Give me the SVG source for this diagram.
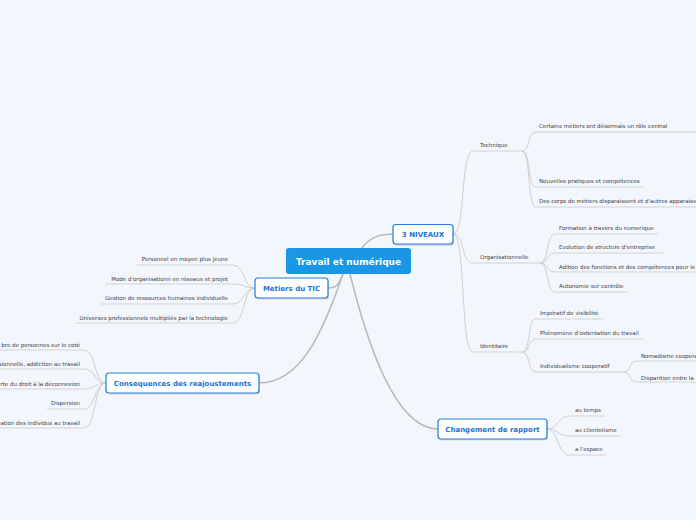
<svg xmlns="http://www.w3.org/2000/svg" width="696" height="520" viewBox="0 0 696 520">
<defs>
<style>
.bg{fill:#f3f6fd}
.main{fill:none;stroke:#b8b8b8;stroke-width:1.5}
.con{fill:none;stroke:#cfcfcf;stroke-width:1}
.ul{stroke:#d2d2d2;stroke-width:1}
.leaf{font-family:"DejaVu Sans",Verdana,sans-serif;font-size:5.5px;fill:#3c3c3c}
.nbox{fill:#ffffff;stroke:#1f7fdb;stroke-width:1.2}
.shadow{fill:#000;opacity:0.12}
.ntext{font-family:"DejaVu Sans",Verdana,sans-serif;font-size:7px;font-weight:bold;fill:#1a73d6;text-anchor:middle}
.ctext{font-family:"DejaVu Sans",Verdana,sans-serif;font-size:9px;font-weight:bold;fill:#ffffff;text-anchor:middle}
.end{text-anchor:end}
</style>
</defs>
<rect class="bg" x="0" y="0" width="696" height="520"/>

<g id="connectors">
<path class="main" d="M362,248 C370,237 380,234 393,234"/>
<path class="main" d="M343,274 C338,286 336,288 328,288"/>
<path class="main" d="M343,274 C322,335 300,383 259,383"/>
<path class="main" d="M350,274 C370,355 398,429 438,429"/>
<!-- Metiers du TIC -->
<path class="con" d="M255,288 C243,288 245,265 233,265"/>
<path class="con" d="M255,288 C243,288 245,284 233,284"/>
<path class="con" d="M255,288 C243,288 245,304 233,304"/>
<path class="con" d="M255,288 C243,288 245,323 233,323"/>
<!-- Consequences -->
<path class="con" d="M106,383 C94,383 96,350 84,350"/>
<path class="con" d="M106,383 C94,383 96,369 84,369"/>
<path class="con" d="M106,383 C94,383 96,389 84,389"/>
<path class="con" d="M106,383 C94,383 96,409 84,409"/>
<path class="con" d="M106,383 C94,383 96,428 84,428"/>
<!-- 3 NIVEAUX -->
<path class="con" d="M453,234 C466,234 460,151 473,151"/>
<path class="con" d="M453,234 C466,234 460,263 473,263"/>
<path class="con" d="M453,234 C466,234 460,352 473,352"/>
<!-- Technique -->
<path class="con" d="M522,151 C531,151 527,132 536,132"/>
<path class="con" d="M522,151 C531,151 527,187 536,187"/>
<path class="con" d="M522,151 C531,151 527,207 536,207"/>
<!-- Organisationnelle -->
<path class="con" d="M540,263 C549,263 546,234 555,234"/>
<path class="con" d="M540,263 C549,263 546,253 555,253"/>
<path class="con" d="M540,263 C549,263 546,272 555,272"/>
<path class="con" d="M540,263 C549,263 546,292 555,292"/>
<!-- Identitaire -->
<path class="con" d="M522,352 C531,352 527,319 536,319"/>
<path class="con" d="M522,352 C531,352 527,339 536,339"/>
<path class="con" d="M522,352 C531,352 527,372 536,372"/>
<!-- Individualisme cooperatif -->
<path class="con" d="M623,372 C632,372 628,361 637,361"/>
<path class="con" d="M623,372 C632,372 628,382 637,382"/>
<!-- Changement de rapport -->
<path class="con" d="M547,429 C558,429 558,416 569,416"/>
<path class="con" d="M547,429 C558,429 558,436 569,436"/>
<path class="con" d="M547,429 C558,429 558,455 569,455"/>
</g>

<g id="central">
<rect x="286" y="248" width="125" height="26" rx="3" fill="#1a96e6"/>
<text class="ctext" x="348.5" y="264.5">Travail et numérique</text>
</g>

<g id="n-3niveaux">
<rect class="shadow" x="394" y="226" width="60" height="20" rx="3"/>
<rect class="nbox" x="393" y="224.5" width="60" height="19.5" rx="3"/>
<text class="ntext" x="423" y="236.5">3 NIVEAUX</text>
</g>

<g id="n-metiers">
<rect class="shadow" x="256" y="279.5" width="73" height="20" rx="3"/>
<rect class="nbox" x="255" y="278" width="73" height="20" rx="3"/>
<text class="ntext" x="291.5" y="290.5">Metiers du TIC</text>
</g>

<g id="n-consequences">
<rect class="shadow" x="107" y="374.5" width="153" height="20" rx="3"/>
<rect class="nbox" x="106" y="373" width="153" height="20" rx="3"/>
<text class="ntext" x="182.5" y="385.5">Consequences des reajoustements</text>
</g>

<g id="n-changement">
<rect class="shadow" x="439" y="420.5" width="109" height="20" rx="3"/>
<rect class="nbox" x="438" y="419" width="109" height="20" rx="3"/>
<text class="ntext" x="492.5" y="431.5">Changement de rapport</text>
</g>

<!-- Metiers du TIC leaves -->
<g id="l-personnel"><line class="ul" x1="137" y1="265" x2="233" y2="265"/><text class="leaf end" x="228" y="261">Personnel en moyen plus jeune</text></g>
<g id="l-mode"><line class="ul" x1="106" y1="284" x2="233" y2="284"/><text class="leaf end" x="228" y="281">Mode d'organisationn en réseaux et projet</text></g>
<g id="l-gestion"><line class="ul" x1="101" y1="304" x2="233" y2="304"/><text class="leaf end" x="228" y="300">Gestion de ressources humaines individuelle</text></g>
<g id="l-universes"><line class="ul" x1="75" y1="323" x2="233" y2="323"/><text class="leaf end" x="228" y="320">Universes professionnels multipliés par la technologie</text></g>

<!-- Consequences leaves -->
<g id="l-nombre"><line class="ul" x1="0" y1="350" x2="84" y2="350"/><text class="leaf end" x="80" y="347">bre de personnes sur le coté</text></g>
<g id="l-addiction"><line class="ul" x1="0" y1="369" x2="84" y2="369"/><text class="leaf end" x="80" y="366">sionnelle, addiction au travail</text></g>
<g id="l-droit"><line class="ul" x1="0" y1="389" x2="84" y2="389"/><text class="leaf end" x="80" y="386">rte du droit à la déconnexion</text></g>
<g id="l-dispersion"><line class="ul" x1="47" y1="409" x2="84" y2="409"/><text class="leaf end" x="80" y="405">Dispersion</text></g>
<g id="l-individus"><line class="ul" x1="0" y1="428" x2="84" y2="428"/><text class="leaf end" x="80" y="425">ation des individus au travail</text></g>

<!-- 3 NIVEAUX children -->
<g id="l-technique"><line class="ul" x1="473" y1="151" x2="522" y2="151"/><text class="leaf" x="480" y="147">Technique</text></g>
<g id="l-organisationnelle"><line class="ul" x1="473" y1="263" x2="540" y2="263"/><text class="leaf" x="480" y="259">Organisationnelle</text></g>
<g id="l-identitaire"><line class="ul" x1="473" y1="352" x2="522" y2="352"/><text class="leaf" x="480" y="348">Identitaire</text></g>

<!-- Technique children -->
<g id="l-certains"><line class="ul" x1="536" y1="132" x2="696" y2="132"/><text class="leaf" x="539" y="128">Certains métiers ont désormais un rôle central</text></g>
<g id="l-nouvelles"><line class="ul" x1="536" y1="187" x2="643" y2="187"/><text class="leaf" x="539" y="183">Nouvelles pratiques et compétences</text></g>
<g id="l-corps"><line class="ul" x1="536" y1="207" x2="696" y2="207"/><text class="leaf" x="539" y="203">Des corps de métiers disparaissent et d'autres apparaiss</text></g>

<!-- Organisationnelle children -->
<g id="l-formation"><line class="ul" x1="555" y1="234" x2="658" y2="234"/><text class="leaf" x="559" y="230">Formation à travers du numerique</text></g>
<g id="l-evolution"><line class="ul" x1="555" y1="253" x2="664" y2="253"/><text class="leaf" x="559" y="249">Evolution de structure d'entreprise</text></g>
<g id="l-adition"><line class="ul" x1="555" y1="272" x2="696" y2="272"/><text class="leaf" x="559" y="269">Adition des fonctions et des compétences pour le</text></g>
<g id="l-autonomie"><line class="ul" x1="555" y1="292" x2="628" y2="292"/><text class="leaf" x="559" y="288">Autonomie sur contrôle</text></g>

<!-- Identitaire children -->
<g id="l-imperatif"><line class="ul" x1="536" y1="319" x2="603" y2="319"/><text class="leaf" x="540" y="315">Impératif de visibilité</text></g>
<g id="l-phenomene"><line class="ul" x1="536" y1="339" x2="643" y2="339"/><text class="leaf" x="540" y="335">Phénomène d'ostentation du travail</text></g>
<g id="l-individualisme"><line class="ul" x1="536" y1="372" x2="623" y2="372"/><text class="leaf" x="540" y="368">Individualisme cooperatif</text></g>
<g id="l-nomadisme"><line class="ul" x1="637" y1="361" x2="696" y2="361"/><text class="leaf" x="641" y="358">Nomadisme coopera</text></g>
<g id="l-disparition"><line class="ul" x1="637" y1="382" x2="696" y2="382"/><text class="leaf" x="641" y="380">Disparition entre la</text></g>

<!-- Changement de rapport children -->
<g id="l-temps"><line class="ul" x1="569" y1="416" x2="605" y2="416"/><text class="leaf" x="575" y="412">au temps</text></g>
<g id="l-clientelisme"><line class="ul" x1="569" y1="436" x2="621" y2="436"/><text class="leaf" x="575" y="432">au clientelisme</text></g>
<g id="l-espace"><line class="ul" x1="569" y1="455" x2="607" y2="455"/><text class="leaf" x="575" y="451">a l'espace</text></g>
</svg>
